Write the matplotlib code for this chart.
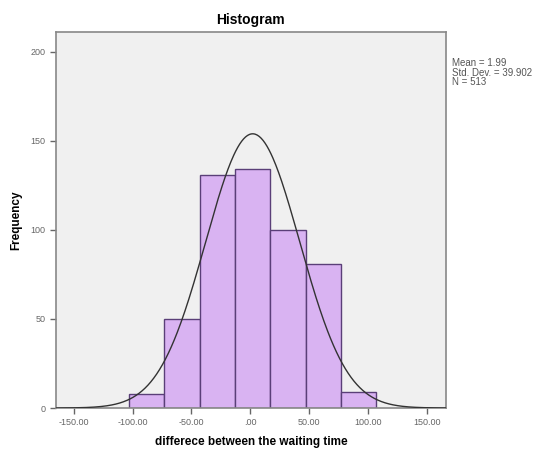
import numpy as np
import matplotlib.pyplot as plt

plt.rcParams["font.family"] = ["Liberation Sans", "DejaVu Sans"]

# histogram bins
bin_edges = [-103, -73, -43, -13, 17, 47, 77, 107]
counts = [8, 50, 131, 134, 100, 81, 9]

mean_val = 1.99
std_val = 39.902
n_val = 513

x_ticks = [-150, -100, -50, 0, 50, 100, 150]
x_tick_labels = ["-150.00", "-100.00", "-50.00", ".00", "50.00", "100.00", "150.00"]
y_ticks = [0, 50, 100, 150, 200]

fig = plt.figure(figsize=(5.58, 4.5), dpi=100)
ax = fig.add_axes([0.1004, 0.0933, 0.6986, 0.8356])
ax.set_facecolor("#f0f0f0")

lefts = bin_edges[:-1]
widths = np.diff(bin_edges)
ax.bar(lefts, counts, width=widths, align="edge", color="#d9b3f2",
       edgecolor="#5a3f78", linewidth=1.0, zorder=2)

# fitted normal curve scaled to counts
bw = widths[0]
xs = np.linspace(-165, 166, 400)
ys = n_val * bw / (std_val * np.sqrt(2 * np.pi)) * np.exp(-0.5 * ((xs - mean_val) / std_val) ** 2)
ax.plot(xs, ys, color="#333333", linewidth=1.0, zorder=3)

ax.set_xlim(-165, 166)
ax.set_ylim(0, 211)
ax.set_xticks(x_ticks)
ax.set_xticklabels(x_tick_labels)
ax.set_yticks(y_ticks)
ax.tick_params(labelsize=6.5, colors="#666666", length=4, width=1)
for s in ax.spines.values():
    s.set_color("#888888")
    s.set_linewidth(1.2)

ax.set_title("Histogram", fontsize=10, fontweight="bold", pad=6)
ax.set_xlabel("differece between the waiting time", fontsize=8.5, fontweight="bold", labelpad=6)
ax.set_ylabel("Frequency", fontsize=8.5, fontweight="bold", labelpad=6)

fig.text(452 / 558, 1 - 58 / 450,
         "Mean = %.2f\nStd. Dev. = %.3f\nN = %d" % (mean_val, std_val, n_val),
         fontsize=7, color="#555555", va="top", ha="left", linespacing=0.95)

fig.savefig("out.png", dpi=100)
plt.close(fig)
